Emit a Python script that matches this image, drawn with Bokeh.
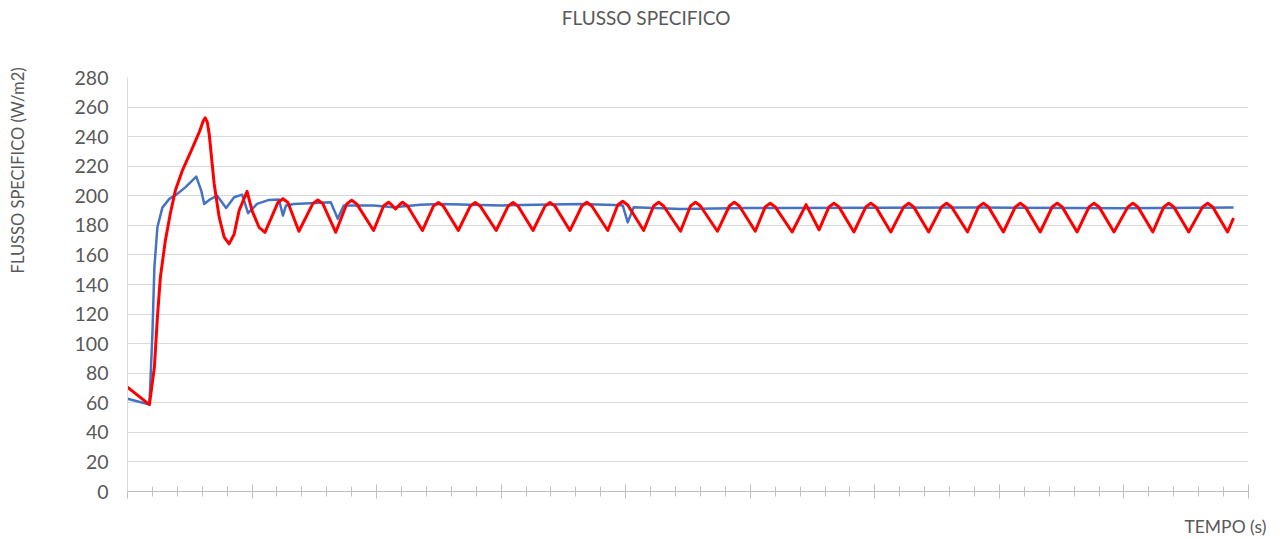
from bokeh.plotting import figure
from bokeh.models import Range1d, FixedTicker, LinearAxis
from bokeh.embed import file_html
from bokeh.resources import INLINE

# ---- data (TEMPO in s, FLUSSO SPECIFICO in W/m2) ----
blue_t = [0, 22, 25, 27, 30, 35, 42, 50, 58, 69, 74, 77, 82, 90, 99, 107, 115, 121, 130, 142,
          152, 156, 159, 167, 204, 211, 217, 247, 267, 294, 314, 375, 455, 488, 497, 502, 508,
          555, 622, 655, 850, 1000, 1110]
blue_v = [62.7, 58.8, 106.6, 151.7, 178.7, 192, 197.9, 201.3, 205.7, 213, 203.5, 194.5, 197.2,
          200.1, 191.8, 199, 200.8, 188.2, 194.5, 197.2, 197.5, 186.6, 193.4, 194.5, 195.6, 184.4,
          193.4, 193.4, 192.2, 194, 194.5, 193.5, 194.5, 193.7, 193.5, 182, 192.2, 191.1, 191.8,
          191.8, 192, 191.5, 192]

red_t = [0, 22, 27, 30, 33, 38, 43, 48, 55, 64, 72, 76, 78, 80, 82, 87, 92, 97, 102, 107, 112,
         120, 125, 132, 138,
         151, 156, 161, 172,
         186, 191, 196, 209,
         220, 225, 230, 247,
         257, 262, 265, 269, 273, 276, 281, 296,
         307, 312, 317, 332,
         344, 349, 354, 370,
         382, 387, 392, 407,
         419, 424, 429, 444,
         456, 461, 466, 482,
         492, 497, 502, 518,
         528, 533, 538, 555,
         565, 570, 575, 592,
         604, 609, 614, 630,
         640, 645, 650, 667,
         681, 694,
         704, 709, 714, 729,
         741, 746, 751, 766,
         779, 784, 789, 804,
         817, 822, 827, 843,
         854, 859, 864, 879,
         891, 896, 901, 916,
         928, 933, 938, 953,
         965, 970, 975, 990,
         1004, 1009, 1014, 1029,
         1040, 1045, 1050, 1065,
         1079, 1084, 1089, 1104,
         1110]
red_v = [70.5, 58.8, 84, 117.8, 145, 169.7, 188, 203.5, 217, 230.6, 243, 250.5, 252.7, 250, 241.8,
         208, 185.5, 172, 167.5, 174, 190,
         203, 190, 178.7, 175.3,
         195.5, 198, 195.5, 176,
         194.7, 197.2, 194.7, 175.3,
         194.5, 197, 194.5, 176.5,
         193.1, 195.6, 194, 191.1, 194, 195.6, 193.1, 176.5,
         193, 195.5, 193, 176.5,
         193, 195.5, 193, 176.5,
         193, 195.5, 193, 176.5,
         193, 195.5, 193, 176.5,
         193.1, 195.6, 193.1, 176.5,
         193.8, 196.3, 193.8, 176.5,
         193.1, 195.6, 193.1, 176,
         193.1, 195.6, 193.1, 176,
         193.1, 195.6, 193.1, 176,
         192.5, 195, 192.5, 175.5,
         194, 177,
         192.5, 195, 192.5, 175.5,
         192.5, 195, 192.5, 175.5,
         192.5, 195, 192.5, 175.5,
         192.5, 195, 192.5, 175.5,
         192.5, 195, 192.5, 175.5,
         192.5, 195, 192.5, 175.5,
         192.5, 195, 192.5, 175.5,
         192.5, 195, 192.5, 175.5,
         192.5, 195, 192.5, 175.5,
         192.5, 195, 192.5, 175.5,
         192.5, 195, 192.5, 175.5,
         185]

y_ticks = [0, 20, 40, 60, 80, 100, 120, 140, 160, 180, 200, 220, 240, 260, 280]
x_major = [0, 125, 250, 375, 500, 625, 750, 875, 1000, 1125]
x_minor = list(range(0, 1126, 25))

TITLE = "FLUSSO SPECIFICO"
Y_TITLE = "FLUSSO SPECIFICO (W/m2)"
X_TITLE = "TEMPO (s)"

TXT = "#595959"
FONT = "Lato"
EM = "\u2003"      # em space: shifts an axis title away from the centre
THIRD = "\u2004"   # three-per-em space

p = figure(width=1280, height=539, output_backend="svg", toolbar_location=None,
           x_range=Range1d(0, 1125), y_range=Range1d(0, 280),
           min_border_left=127, min_border_right=32, min_border_top=77, min_border_bottom=48)
p.outline_line_color = None
p.background_fill_color = "white"
p.border_fill_color = "white"

p.xgrid.visible = False
p.ygrid.ticker = FixedTicker(ticks=y_ticks)
p.ygrid.grid_line_color = "#D9D9D9"
p.ygrid.grid_line_width = 1

ya = p.yaxis[0]
ya.ticker = FixedTicker(ticks=y_ticks)
ya.major_tick_in = 0
ya.major_tick_out = 0
ya.minor_tick_in = 0
ya.minor_tick_out = 0
ya.axis_line_color = "#D9D9D9"
ya.major_label_text_font = FONT
ya.major_label_text_font_size = "19.5px"
ya.major_label_text_color = TXT
ya.major_label_standoff = 19

xa = p.xaxis[0]
xa.ticker = FixedTicker(ticks=x_major, minor_ticks=x_minor)
xa.axis_line_color = "#BFBFBF"
xa.major_tick_line_color = "#BFBFBF"
xa.minor_tick_line_color = "#BFBFBF"
xa.major_tick_in = 7
xa.major_tick_out = 7
xa.minor_tick_in = 5
xa.minor_tick_out = 5
xa.major_label_overrides = {t: "" for t in x_major}
xa.major_label_standoff = 0


def label_axis(text, size, standoff):
    """A bare axis (no line, no ticks) that only carries a title."""
    return LinearAxis(ticker=FixedTicker(ticks=[]), axis_line_color=None,
                      major_tick_line_color=None, minor_tick_line_color=None,
                      major_tick_in=0, major_tick_out=0, minor_tick_in=0, minor_tick_out=0,
                      axis_label=text, axis_label_standoff=standoff,
                      axis_label_text_font=FONT, axis_label_text_font_size=size,
                      axis_label_text_font_style="normal", axis_label_text_color=TXT)


p.add_layout(label_axis(TITLE + EM * 5 + THIRD * 2, "19px", 49), "above")
p.add_layout(label_axis(EM * 18 + THIRD + Y_TITLE, "16.5px", 44), "left")
p.add_layout(label_axis(EM * 81 + THIRD * 2 + X_TITLE, "17.5px", 17), "below")

p.line(blue_t, blue_v, line_color="#4472C4", line_width=2.5, line_join="round")
p.line(red_t, red_v, line_color="#FF0000", line_width=3, line_join="round")

open("out.html", "w").write(file_html(p, INLINE))
